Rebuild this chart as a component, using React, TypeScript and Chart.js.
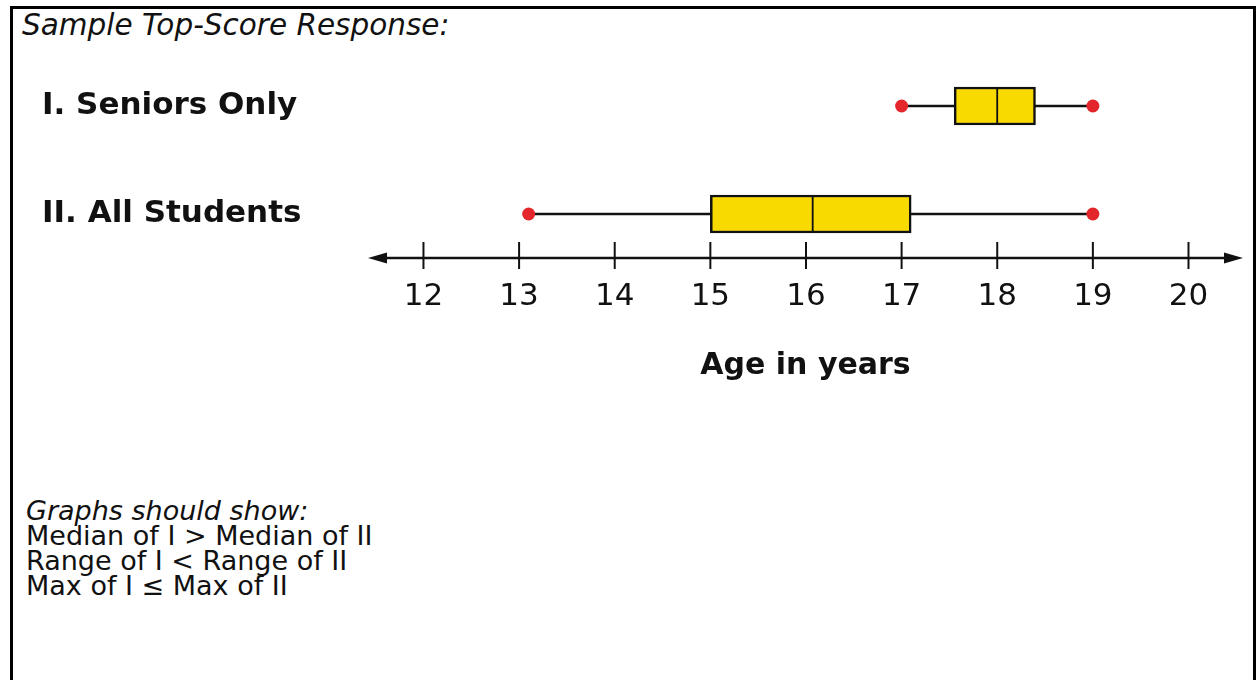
import React, { useEffect, useRef } from 'react';
import { Chart, registerables } from 'chart.js';

Chart.register(...registerables);

const categories = ['I. Seniors Only', 'II. All Students'];
const categoryPositions = [1, 2];
const minValues = [17, 13.1];
const q1Values = [17.55, 15];
const medianValues = [18, 16.07];
const q3Values = [18.4, 17.1];
const maxValues = [19, 19];
const xTickValues = [12, 13, 14, 15, 16, 17, 18, 19, 20];
const headerText = 'Sample Top-Score Response:';
const notesTitle = 'Graphs should show:';
const notes = ['Median of I > Median of II', 'Range of I < Range of II', 'Max of I \u2264 Max of II'];

const FONT = "'DejaVu Sans', Verdana, sans-serif";
const INK = '#111111';
const YELLOW = '#f8da00';
const RED = '#e2262b';

const numberLinePlugin = {
  id: 'numberLine',
  beforeDatasetsDraw(chart: any) {
    const { ctx, chartArea, scales } = chart;
    const y = chartArea.bottom;
    const x0 = chartArea.left;
    const x1 = chartArea.right;
    ctx.save();
    ctx.strokeStyle = INK;
    ctx.fillStyle = INK;
    ctx.lineWidth = 2.5;
    ctx.beginPath();
    ctx.moveTo(x0 + 10, y);
    ctx.lineTo(x1 - 10, y);
    ctx.stroke();
    ctx.beginPath();
    ctx.moveTo(x0, y);
    ctx.lineTo(x0 + 19, y - 5.5);
    ctx.lineTo(x0 + 19, y + 5.5);
    ctx.closePath();
    ctx.fill();
    ctx.beginPath();
    ctx.moveTo(x1, y);
    ctx.lineTo(x1 - 19, y - 5.5);
    ctx.lineTo(x1 - 19, y + 5.5);
    ctx.closePath();
    ctx.fill();
    ctx.lineWidth = 2;
    xTickValues.forEach((v) => {
      const px = scales.x.getPixelForValue(v);
      ctx.beginPath();
      ctx.moveTo(px, y - 16);
      ctx.lineTo(px, y + 11);
      ctx.stroke();
    });
    ctx.restore();
  },
};

function BoxPlot() {
  const canvasRef = useRef<HTMLCanvasElement | null>(null);

  useEffect(() => {
    if (!canvasRef.current) return;
    const whiskerSets = categoryPositions.map((p, i) => ({
      type: 'line' as const,
      data: [
        { x: minValues[i], y: p },
        { x: maxValues[i], y: p },
      ],
      borderColor: INK,
      borderWidth: 2.5,
      pointRadius: 6.5,
      pointHoverRadius: 6.5,
      pointBackgroundColor: RED,
      pointBorderWidth: 0,
      fill: false,
      order: 2,
    }));
    const lowerHalf = {
      type: 'bar' as const,
      data: categoryPositions.map((p, i) => ({ y: p, x: [q1Values[i], medianValues[i]] })),
      backgroundColor: YELLOW,
      borderColor: INK,
      borderWidth: { top: 2.5, bottom: 2.5, left: 2.5, right: 1.25 },
      borderSkipped: false,
      barThickness: 38,
      grouped: false,
      order: 0,
    };
    const upperHalf = {
      type: 'bar' as const,
      data: categoryPositions.map((p, i) => ({ y: p, x: [medianValues[i], q3Values[i]] })),
      backgroundColor: YELLOW,
      borderColor: INK,
      borderWidth: { top: 2.5, bottom: 2.5, left: 1.25, right: 2.5 },
      borderSkipped: false,
      barThickness: 38,
      grouped: false,
      order: 0,
    };

    const chart = new Chart(canvasRef.current, {
      type: 'bar',
      data: { datasets: [lowerHalf, upperHalf, ...whiskerSets] as any },
      options: {
        responsive: false,
        animation: false,
        indexAxis: 'y',
        devicePixelRatio: 1,
        layout: { padding: { left: 42, right: 14, top: 52, bottom: 0 } },
        plugins: { legend: { display: false }, tooltip: { enabled: false } },
        scales: {
          x: {
            type: 'linear',
            position: 'bottom',
            min: 11.42,
            max: 20.57,
            offset: false,
            grid: { display: false, drawTicks: false },
            border: { display: false },
            afterBuildTicks: (s: any) => {
              s.ticks = xTickValues.map((v) => ({ value: v }));
            },
            afterFit: (s: any) => {
              s.height = 162;
            },
            ticks: {
              font: { family: FONT, size: 31 },
              color: INK,
              padding: 20,
              callback: (v: any) => String(v),
            },
            title: {
              display: true,
              text: 'Age in years',
              font: { family: FONT, size: 30, weight: 'bold' },
              color: INK,
              padding: { top: 0, bottom: 36 },
            },
          },
          y: {
            type: 'linear',
            reverse: true,
            min: 0.5,
            max: 2.4074,
            offset: false,
            grid: { display: false, drawTicks: false },
            border: { display: false },
            afterBuildTicks: (s: any) => {
              s.ticks = categoryPositions.map((v) => ({ value: v }));
            },
            afterFit: (s: any) => {
              s.width = 326;
            },
            ticks: {
              crossAlign: 'far',
              padding: 0,
              font: { family: FONT, size: 31, weight: 'bold' },
              color: INK,
              callback: (v: any) => {
                const idx = categoryPositions.indexOf(Number(v));
                return idx >= 0 ? categories[idx] : '';
              },
            },
          },
        },
      } as any,
      plugins: [numberLinePlugin],
    });
    return () => chart.destroy();
  }, []);

  return (
    <canvas
      ref={canvasRef}
      width={1257}
      height={420}
      style={{ position: 'absolute', left: 0, top: 0, width: 1257, height: 420 }}
    />
  );
}

export default function App() {
  return (
    <div
      style={{
        position: 'absolute',
        left: 0,
        top: 0,
        width: 1257,
        height: 680,
        overflow: 'hidden',
        background: '#ffffff',
        fontFamily: FONT,
        color: INK,
      }}
    >
      <div
        style={{
          position: 'absolute',
          left: 10,
          top: 6,
          width: 1246,
          height: 720,
          boxSizing: 'border-box',
          border: '3px solid #000',
          borderBottom: 'none',
        }}
      />
      <div style={{ position: 'absolute', left: 22, top: 10, fontSize: 29.5, lineHeight: '30px', fontStyle: 'italic', whiteSpace: 'nowrap' }}>
        {headerText}
      </div>
      <BoxPlot />
      <div style={{ position: 'absolute', left: 26, top: 498, fontSize: 27, lineHeight: '25px', whiteSpace: 'nowrap' }}>
        <div style={{ fontStyle: 'italic' }}>{notesTitle}</div>
        {notes.map((n) => (
          <div key={n}>{n}</div>
        ))}
      </div>
    </div>
  );
}
